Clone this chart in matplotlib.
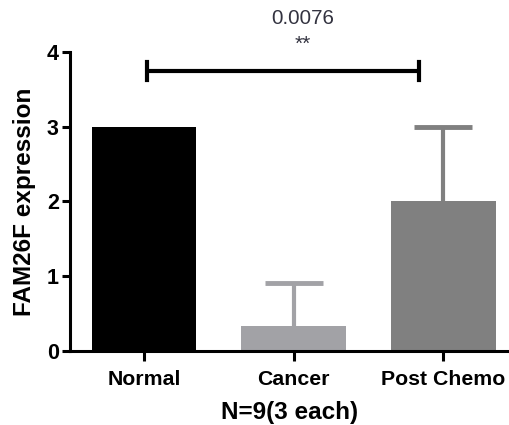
import matplotlib
matplotlib.use("Agg")
from matplotlib import pyplot as plt

groups = ["Normal", "Cancer", "Post Chemo"]
means = [3.0, 0.333, 2.0]
sds = [0.0, 0.577, 1.0]
colors = ["#000000", "#a2a2a6", "#808080"]
p_text = "0.0076"
stars = "**"

plt.rcParams["font.family"] = ["Liberation Sans", "DejaVu Sans"]

fig = plt.figure(figsize=(5.09, 4.25), dpi=100)
ax = fig.add_axes([0.1375, 0.174, 0.8625, 0.704])

x = list(range(len(groups)))
ax.bar(x, means, width=0.70, color=colors, zorder=2)
# upper-only error bars, same colour as the bar
for xi, m, s, c in zip(x, means, sds, colors):
    if s > 0:
        ax.vlines(xi, m, m + s, color=c, lw=3, zorder=1)
        ax.plot([xi], [m + s], marker="_", markersize=42, mew=3.5, color=c, zorder=1)

# significance bracket
y_br = 3.75
ax.plot([0.02, 1.84], [y_br, y_br], color="black", lw=3, clip_on=False, solid_capstyle="butt")
for xb in (0.02, 1.84):
    ax.plot([xb, xb], [y_br - 0.12, y_br + 0.12], color="black", lw=3, clip_on=False)
ax.text(1.06, 4.45, p_text, ha="center", va="center", fontsize=14.8, color="#333340", clip_on=False)
ax.text(1.06, 4.10, stars, ha="center", va="center", fontsize=15, color="#333340", clip_on=False)

ax.set_xlim(-0.495, 2.44)
ax.set_ylim(0, 4)
ax.set_yticks([0, 1, 2, 3, 4])
ax.set_xticks(x)
ax.set_xticklabels(groups, fontsize=15.3, fontweight="bold")
ax.tick_params(axis="y", labelsize=15.5, width=2.2, length=6, direction="out", pad=2)
ax.tick_params(axis="x", width=2.2, length=7, direction="out", pad=7)
for lab in ax.get_yticklabels():
    lab.set_fontweight("bold")
ax.set_ylabel("FAM26F expression", fontsize=17.5, fontweight="bold", labelpad=8)
ax.set_xlabel("N=9(3 each)", fontsize=17.5, fontweight="bold", labelpad=8)

for side in ("top", "right"):
    ax.spines[side].set_visible(False)
for side in ("left", "bottom"):
    ax.spines[side].set_linewidth(2.2)

fig.savefig("out.png", dpi=100)
